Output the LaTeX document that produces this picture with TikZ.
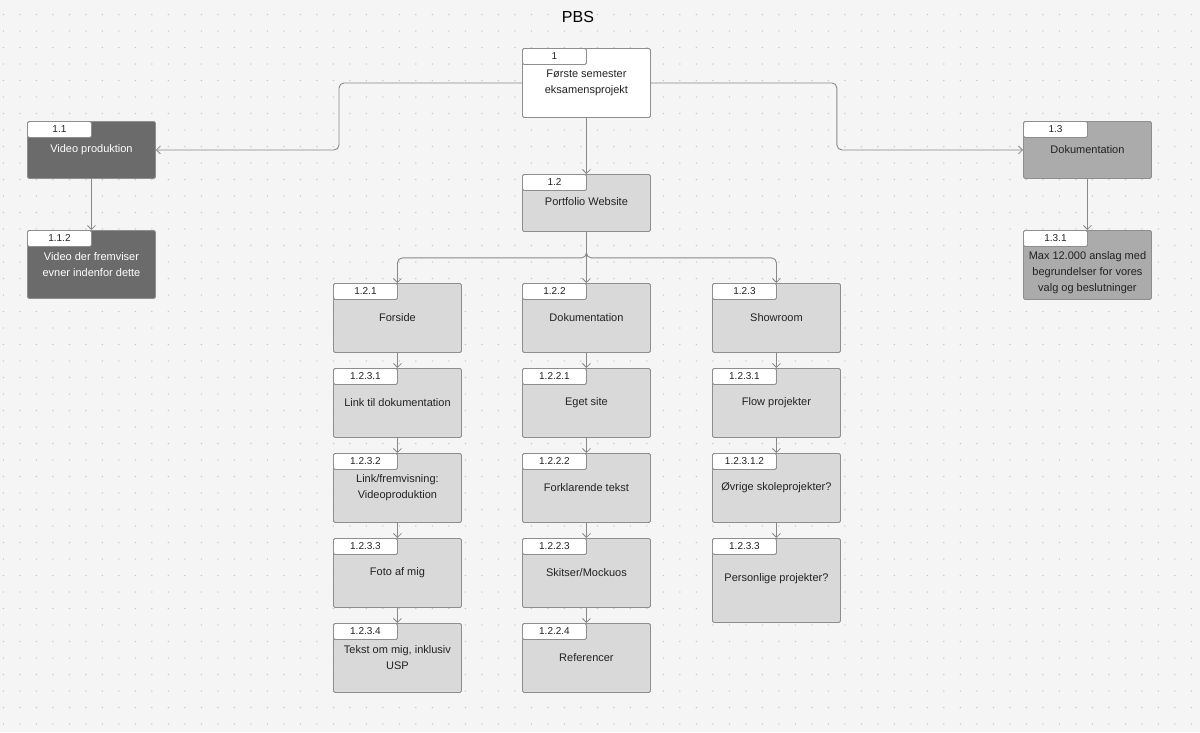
\documentclass[tikz,border=0pt]{standalone}
\usepackage{fontspec}
\setmainfont{Liberation Sans}
\usetikzlibrary{arrows.meta,calc}
\definecolor{bg}{HTML}{F5F5F5}
\definecolor{dotc}{HTML}{C4C4C4}
\definecolor{edge}{HTML}{8E8E8E}
\definecolor{conc}{HTML}{888888}
\definecolor{darkf}{HTML}{6B6B6B}
\definecolor{midf}{HTML}{ABABAB}
\definecolor{lightf}{HTML}{D9D9D9}
\definecolor{txtc}{HTML}{222222}
\tikzset{
  box/.style={draw=edge,line width=0.9pt,rounded corners=1.5pt,inner sep=0pt,minimum width=128pt},
  tab/.style={draw=edge,line width=0.9pt,fill=white,rounded corners=1.5pt,inner sep=0pt,minimum width=64pt,minimum height=16pt,font=\fontsize{10}{12}\selectfont,text=txtc},
  txt/.style={align=center,inner sep=0pt,font=\fontsize{11}{16}\selectfont},
  conn/.style={draw=conc,line width=0.9pt,-{Straight Barb[length=4pt,width=8pt,line width=0.8pt]},rounded corners=5pt},
}
% name, x, y, h, fill, textcolor, label, text offset, text
\newcommand\wbsbox[9]{%
  \node[box,fill=#5,minimum height=#4pt,anchor=north west] (#1) at (#2,#3) {};
  \node[tab,anchor=north west] (#1-t) at (#1.north west) {#7};
  \node[txt,text=#6] (#1-x) at ($(#1.north)+(0,#8)$) {#9};
}
\begin{document}
\begin{tikzpicture}[x=1pt,y=-1pt]
\fill[bg] (0,0) rectangle (1200,732);
\useasboundingbox (0,0) rectangle (1200,732);
% dot grid
\foreach \i in {0,...,72}{
  \foreach \j in {0,...,44}{
    \fill[dotc] ({3.3+16.5*\i},{14.5+16.5*\j}) circle (0.75pt);
  }
}
\node[font=\fontsize{16}{18}\selectfont,text=black] (title) at (578,17) {PBS};
% top
\wbsbox{n1}{522}{48}{69}{white}{txtc}{1}{34.5}{Første semester\\eksamensprojekt}
\wbsbox{n11}{27}{121}{57}{darkf}{white}{1.1}{29}{Video produktion}
\wbsbox{n112}{27}{230}{68}{darkf}{white}{1.1.2}{35}{Video der fremviser\\evner indenfor dette}
\wbsbox{n13}{1023}{121}{57}{midf}{txtc}{1.3}{29}{Dokumentation}
\wbsbox{n131}{1023}{230}{69}{midf}{txtc}{1.3.1}{43}{Max 12.000 anslag med\\begrundelser for vores\\valg og beslutninger}
\wbsbox{n12}{522}{174}{57}{lightf}{txtc}{1.2}{28}{Portfolio Website}
% column 1
\wbsbox{a1}{333}{283}{69}{lightf}{txtc}{1.2.1}{35}{Forside}
\wbsbox{a2}{333}{368}{69}{lightf}{txtc}{1.2.3.1}{35}{Link til dokumentation}
\wbsbox{a3}{333}{453}{69}{lightf}{txtc}{1.2.3.2}{35}{Link/fremvisning:\\Videoproduktion}
\wbsbox{a4}{333}{538}{69}{lightf}{txtc}{1.2.3.3}{35}{Foto af mig}
\wbsbox{a5}{333}{623}{69}{lightf}{txtc}{1.2.3.4}{35}{Tekst om mig, inklusiv\\USP}
% column 2
\wbsbox{b1}{522}{283}{69}{lightf}{txtc}{1.2.2}{35}{Dokumentation}
\wbsbox{b2}{522}{368}{69}{lightf}{txtc}{1.2.2.1}{35}{Eget site}
\wbsbox{b3}{522}{453}{69}{lightf}{txtc}{1.2.2.2}{35}{Forklarende tekst}
\wbsbox{b4}{522}{538}{69}{lightf}{txtc}{1.2.2.3}{35}{Skitser/Mockuos}
\wbsbox{b5}{522}{623}{69}{lightf}{txtc}{1.2.2.4}{35}{Referencer}
% column 3
\wbsbox{c1}{712}{283}{69}{lightf}{txtc}{1.2.3}{35}{Showroom}
\wbsbox{c2}{712}{368}{69}{lightf}{txtc}{1.2.3.1}{35}{Flow projekter}
\wbsbox{c3}{712}{453}{69}{lightf}{txtc}{1.2.3.1.2}{35}{Øvrige skoleprojekter?}
\wbsbox{c4}{712}{538}{84}{lightf}{txtc}{1.2.3.3}{41}{Personlige projekter?}
% connectors
\draw[conn] (n1.west) -- ++(-183,0) |- (n11.east);
\draw[conn] (n1.east) -- ++(186,0) |- (n13.west);
\draw[conn] (n1.south) -- (n12.north);
\draw[conn] (n11.south) -- (n112.north);
\draw[conn] (n13.south) -- (n131.north);
\draw[conn] (n12.south) -- ++(0,26) -| (a1.north);
\draw[conn] (n12.south) -- (b1.north);
\draw[conn] (n12.south) -- ++(0,26) -| (c1.north);
\draw[conn] (a1.south) -- (a2.north);
\draw[conn] (a2.south) -- (a3.north);
\draw[conn] (a3.south) -- (a4.north);
\draw[conn] (a4.south) -- (a5.north);
\draw[conn] (b1.south) -- (b2.north);
\draw[conn] (b2.south) -- (b3.north);
\draw[conn] (b3.south) -- (b4.north);
\draw[conn] (b4.south) -- (b5.north);
\draw[conn] (c1.south) -- (c2.north);
\draw[conn] (c2.south) -- (c3.north);
\draw[conn] (c3.south) -- (c4.north);
\end{tikzpicture}
\end{document}
